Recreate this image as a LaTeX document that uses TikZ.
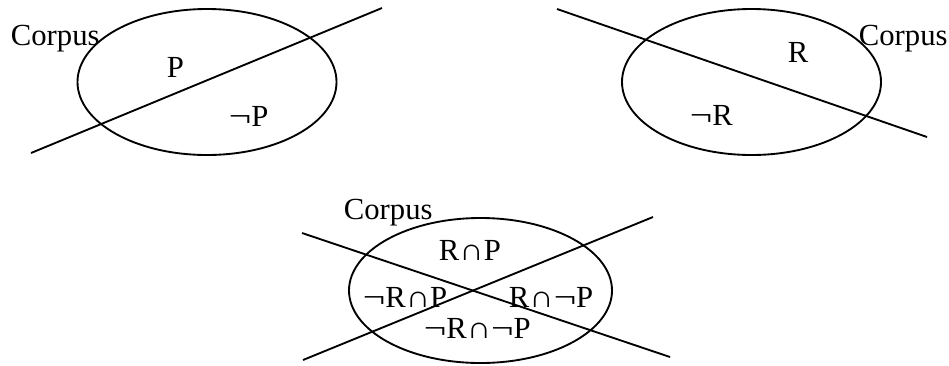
\documentclass[tikz,border=0pt]{standalone}
\usepackage{fontspec}
\setmainfont{Liberation Serif}
\usepackage{graphicx}
\usepackage{tikz}
\usetikzlibrary{calc, positioning, arrows.meta}

\newcommand{\nt}{\scalebox{1.3}[1]{¬}}
\newcommand{\ct}{\scalebox{1.1}[1]{∩}}

\begin{document}
\begin{tikzpicture}[x=0.75pt, y=-0.75pt, line width=1.4pt,
    lbl/.style={inner sep=0pt, anchor=base west, font=\fontsize{23}{27}\selectfont}]
    \useasboundingbox (0,0) rectangle (949,365);

    \pgfmathsetmacro{\rx}{129.5}
    \pgfmathsetmacro{\ry}{73}

    % top left: P
    \coordinate (CP) at (207, 82);
    \draw (CP) ellipse [x radius=\rx, y radius=\ry];
    \coordinate (LPa) at (31, 153);
    \coordinate (LPb) at (382, 8);
    \draw (LPa) -- (LPb);
    \node[lbl] (corpusP) at (10, 45) {Corpus};
    \node[lbl] (P) at (166, 77) {P};
    \node[lbl] (notP) at (228, 126) {\nt P};

    % top right: R
    \coordinate (CR) at (751.5, 82);
    \draw (CR) ellipse [x radius=\rx, y radius=\ry];
    \coordinate (LRa) at (557, 9);
    \coordinate (LRb) at (927, 137);
    \draw (LRa) -- (LRb);
    \node[lbl] (corpusR) at (858, 45) {Corpus};
    \node[lbl] (R) at (787, 62) {R};
    \node[lbl] (notR) at (689, 125) {\nt R};

    % bottom: R and P
    \coordinate (CRP) at (480.5, 290.5);
    \draw (CRP) ellipse [x radius=131.5, y radius=72.5];
    \coordinate (LAa) at (302, 233);
    \coordinate (LAb) at (670, 357);
    \coordinate (LBa) at (303, 360);
    \coordinate (LBb) at (653, 217);
    \draw (LAa) -- (LAb);
    \draw (LBa) -- (LBb);
    \node[lbl] (corpusRP) at (343, 219) {Corpus};
    \node[lbl] (RandP) at (438, 260) {R\ct P};
    \node[lbl] (nRandP) at (362, 307) {\nt R\ct P};
    \node[lbl] (RandnP) at (508, 307) {R\ct\nt P};
    \node[lbl] (nRandnP) at (423, 338) {\nt R\ct\nt P};
\end{tikzpicture}
\end{document}
